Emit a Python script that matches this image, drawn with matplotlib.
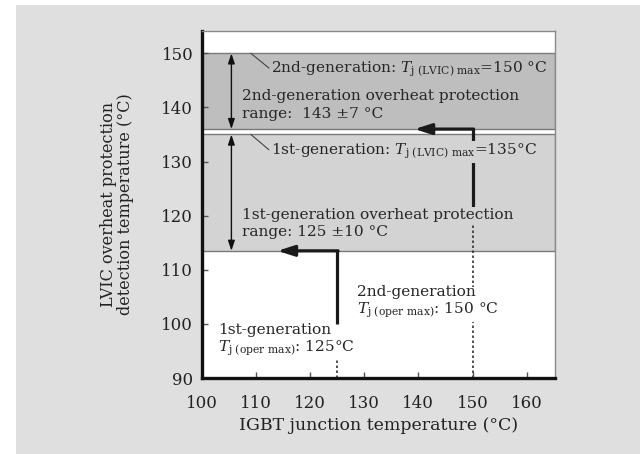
import matplotlib
matplotlib.use("Agg")
import matplotlib.pyplot as plt
from matplotlib.patches import Rectangle

plt.rcParams['font.family'] = ['DejaVu Serif']
plt.rcParams['mathtext.fontset'] = 'dejavuserif'

# data
gens = ['1st', '2nd']
tj_oper_max = [125, 150]        # IGBT junction temperature limit
tj_lvic_max = [135, 150]        # LVIC max
prot_center = [125, 143]
prot_tol = [10, 7]
band_lo = [113.5, 136]          # shaded band bottom as drawn
band_hi = [135, 150]
band_colors = ['#d3d3d3', '#bebebe']
arrow_tip_x = [114.0, 139.3]    # where the thick arrows end
solid_from_y = [100, 119]       # start of the thick vertical lines
range_arrow_x = 105.5

xticks = [100, 110, 120, 130, 140, 150, 160]
yticks = [90, 100, 110, 120, 130, 140, 150]

fig = plt.figure(figsize=(6.4, 4.54), dpi=100)
fig.patch.set_facecolor('white')
fig.patches.append(Rectangle((16 / 640, 0), 1, 1 - 5 / 454, transform=fig.transFigure,
                             facecolor='#dfdfdf', edgecolor='none', zorder=-10))
ax = fig.add_axes([0.315, 0.1674, 0.552, 0.764])
ax.set_facecolor('white')
ax.set_xlim(100, 165.2)
ax.set_ylim(90, 154.1)

# bands
for lo, hi, c in zip(band_lo, band_hi, band_colors):
    ax.axhspan(lo, hi, facecolor=c, edgecolor='#7a7a7a', lw=1.0, zorder=0)

# double arrows for protection range
for lo, hi in zip(band_lo, band_hi):
    ax.annotate('', xy=(range_arrow_x, lo), xytext=(range_arrow_x, hi),
                arrowprops=dict(arrowstyle='<|-|>,head_length=0.6,head_width=0.2',
                                color='#111', lw=1.0, shrinkA=0, shrinkB=0), zorder=2)

# thick L-shaped arrows and dotted lines
for i in range(2):
    x0 = tj_oper_max[i]
    ax.plot([x0, x0], [solid_from_y[i], band_lo[i]], color='#1a1a1a', lw=2.3,
            solid_capstyle='butt', zorder=2)
    ax.annotate('', xy=(arrow_tip_x[i], band_lo[i]), xytext=(x0 + 0.2, band_lo[i]),
                arrowprops=dict(arrowstyle='-|>,head_length=1.0,head_width=0.32',
                                color='#1a1a1a', lw=2.3, shrinkA=0, shrinkB=0), zorder=2)
    ax.plot([x0, x0], [90, solid_from_y[i]], color='#333', lw=1.2, ls=(0, (1.5, 1.5)), zorder=1)

fs = 11.1
tc = '#262626'
sub = r'$T_{\mathrm{j\ (LVIC)\ max}}$'
op = r'$T_{\mathrm{j\ (oper\ max)}}$'

# leader lines
for yv, ty in [(band_hi[1], 147.3), (band_hi[0], 132.2)]:
    ax.plot([109.1, 112.4], [yv, ty], color='#444', lw=0.8, zorder=2)

ax.text(112.9, 147.0, '2nd-generation: ' + sub + '=%d °C' % tj_lvic_max[1],
        fontsize=fs, color=tc, va='center', zorder=3)
ax.text(107.4, 142.1, '2nd-generation overheat protection', fontsize=fs, color=tc,
        va='center', zorder=3)
ax.text(107.4, 138.8, 'range:  %d ±%d °C' % (prot_center[1], prot_tol[1]), fontsize=fs,
        color=tc, va='center', zorder=3)

ax.text(112.9, 131.8, '1st-generation: ' + sub + '=%d°C' % tj_lvic_max[0],
        fontsize=fs, color=tc, va='center', zorder=3,
        bbox=dict(facecolor=band_colors[0], edgecolor='none', pad=1.0))
ax.text(107.4, 120.1, '1st-generation overheat protection', fontsize=fs, color=tc,
        va='center', zorder=3, bbox=dict(facecolor=band_colors[0], edgecolor='none', pad=1.0))
ax.text(107.4, 117.0, 'range: %d ±%d °C' % (prot_center[0], prot_tol[0]), fontsize=fs,
        color=tc, va='center', zorder=3)

ax.text(128.7, 103.9, '2nd-generation\n' + op + ': %d °C' % tj_oper_max[1], fontsize=fs,
        color=tc, va='center', linespacing=1.15, zorder=3,
        bbox=dict(facecolor='white', edgecolor='none', pad=1.0))
ax.text(103.0, 96.9, '1st-generation\n' + op + ': %d°C' % tj_oper_max[0], fontsize=fs,
        color=tc, va='center', linespacing=1.15, zorder=3,
        bbox=dict(facecolor='white', edgecolor='none', pad=1.0))

# axes styling
ax.set_xticks(xticks)
ax.set_yticks(yticks)
ax.tick_params(direction='in', length=4, width=1, colors='#555', labelsize=12,
               labelcolor='#222', pad=6)
ax.tick_params(axis='x', pad=12)
for s in ['left', 'bottom']:
    ax.spines[s].set_linewidth(2.4)
    ax.spines[s].set_color('#111')
for s in ['top', 'right']:
    ax.spines[s].set_linewidth(1.0)
    ax.spines[s].set_color('#8a8a8a')

ax.set_xlabel('IGBT junction temperature (°C)', fontsize=12.5, color='#222', labelpad=4)
ax.set_ylabel('LVIC overheat protection\ndetection temperature (°C)', fontsize=11.5,
              color='#222', labelpad=20, linespacing=1.0)

fig.savefig('out.png', dpi=100)
